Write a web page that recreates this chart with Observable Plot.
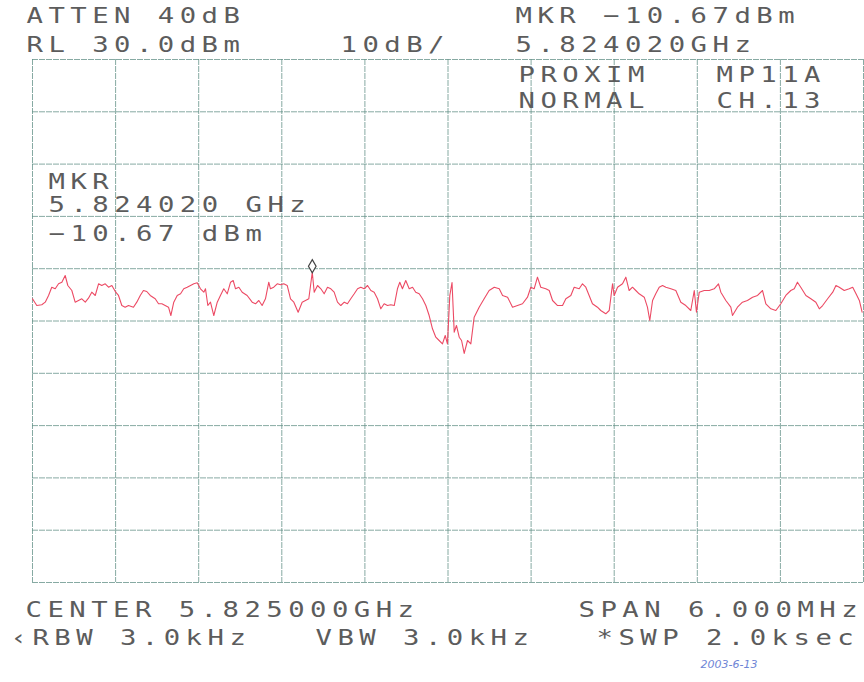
<!DOCTYPE html>
<html><head><meta charset="utf-8">
<script src="https://cdn.jsdelivr.net/npm/d3@7"></script>
<script src="https://cdn.jsdelivr.net/npm/@observablehq/plot@0.6"></script>
<style>html,body{margin:0;padding:0;background:#fff;}</style>
</head><body><div id="chart"></div>
<script>
// Trace: frequency (MHz) and level (dBm)
const freqMHz = [
5822.000,5822.031,5822.067,5822.092,5822.116,5822.139,5822.164,5822.188,5822.212,5822.236,
5822.255,5822.284,5822.308,5822.332,5822.356,5822.381,5822.404,5822.428,5822.453,5822.477,
5822.500,5822.525,5822.549,5822.573,5822.601,5822.621,5822.645,5822.669,5822.693,5822.729,
5822.753,5822.778,5822.801,5822.825,5822.850,5822.886,5822.910,5822.934,5822.958,5822.982,
5822.999,5823.020,5823.045,5823.069,5823.092,5823.117,5823.141,5823.165,5823.189,5823.213,
5823.237,5823.249,5823.266,5823.285,5823.309,5823.334,5823.357,5823.381,5823.406,5823.430,
5823.449,5823.466,5823.490,5823.514,5823.550,5823.586,5823.610,5823.634,5823.658,5823.682,
5823.706,5823.718,5823.742,5823.767,5823.791,5823.814,5823.839,5823.863,5823.887,5823.918,
5823.947,5823.971,5823.995,5824.020,5824.034,5824.058,5824.082,5824.106,5824.130,5824.154,
5824.178,5824.202,5824.226,5824.251,5824.274,5824.298,5824.323,5824.347,5824.370,5824.395,
5824.419,5824.443,5824.467,5824.491,5824.515,5824.539,5824.563,5824.587,5824.612,5824.635,
5824.652,5824.671,5824.695,5824.720,5824.744,5824.767,5824.792,5824.816,5824.840,5824.864,
5824.888,5824.912,5824.936,5824.960,5824.980,5824.996,5825.013,5825.029,5825.045,5825.061,
5825.081,5825.098,5825.117,5825.141,5825.165,5825.189,5825.225,5825.261,5825.297,5825.334,
5825.370,5825.394,5825.430,5825.466,5825.502,5825.538,5825.574,5825.598,5825.622,5825.646,
5825.670,5825.706,5825.731,5825.755,5825.791,5825.827,5825.851,5825.887,5825.911,5825.947,
5825.971,5825.995,5826.019,5826.043,5826.079,5826.103,5826.139,5826.164,5826.188,5826.200,
5826.224,5826.260,5826.284,5826.308,5826.332,5826.356,5826.380,5826.417,5826.440,5826.457,
5826.477,5826.500,5826.525,5826.549,5826.573,5826.609,5826.645,5826.681,5826.717,5826.753,
5826.778,5826.794,5826.814,5826.850,5826.886,5826.922,5826.953,5826.970,5827.006,5827.042,
5827.054,5827.090,5827.126,5827.162,5827.199,5827.235,5827.271,5827.295,5827.331,5827.367,
5827.403,5827.439,5827.475,5827.500,5827.523,5827.547,5827.584,5827.620,5827.656,5827.681,
5827.705,5827.741,5827.778,5827.801,5827.825,5827.861,5827.897,5827.922,5827.946,5827.970,5827.990
];
const levelDBm = [
-15.75,-17.04,-16.90,-16.40,-15.12,-13.54,-13.84,-12.89,-12.58,-11.30,
-13.21,-14.17,-16.40,-16.08,-15.75,-16.40,-15.64,-14.49,-15.12,-12.89,
-13.21,-12.89,-13.54,-13.21,-14.49,-15.12,-17.04,-17.36,-17.04,-17.36,
-16.40,-15.12,-14.17,-14.36,-15.12,-15.75,-16.71,-16.71,-17.04,-17.36,
-18.95,-16.40,-15.12,-14.80,-13.84,-13.54,-13.21,-12.89,-12.69,-13.84,
-14.49,-13.84,-17.04,-16.40,-18.95,-16.40,-15.12,-13.84,-14.80,-12.58,
-12.26,-13.84,-13.54,-14.49,-15.12,-16.40,-16.71,-16.08,-17.04,-15.75,
-12.58,-13.84,-13.54,-12.89,-13.08,-12.89,-13.21,-15.75,-16.40,-18.32,
-16.40,-16.08,-15.75,-10.67,-14.49,-13.21,-13.84,-14.80,-13.54,-13.84,
-14.49,-16.40,-17.04,-16.40,-16.71,-15.75,-14.80,-13.84,-13.54,-13.84,
-13.21,-14.17,-14.49,-15.75,-17.67,-16.71,-17.04,-16.90,-17.04,-13.84,
-12.58,-13.84,-12.26,-13.84,-13.54,-14.49,-14.80,-15.75,-17.04,-18.95,
-21.49,-23.10,-23.73,-24.36,-22.77,-24.36,-15.12,-12.64,-22.14,-20.86,
-23.10,-23.73,-26.21,-23.73,-24.36,-19.27,-17.36,-15.75,-14.17,-13.54,
-13.84,-15.12,-15.45,-17.36,-17.04,-16.71,-15.45,-13.54,-13.84,-11.62,
-13.54,-13.84,-14.17,-16.08,-17.04,-17.04,-15.75,-15.12,-13.54,-13.84,
-12.89,-13.54,-15.12,-16.71,-17.36,-17.99,-18.62,-17.99,-12.89,-15.12,
-13.54,-12.89,-11.62,-14.17,-13.54,-14.17,-14.80,-15.45,-17.36,-19.90,
-16.08,-14.80,-13.54,-13.21,-13.54,-13.84,-14.17,-16.40,-17.04,-17.99,
-14.17,-18.32,-14.49,-14.17,-14.17,-13.84,-12.89,-14.49,-16.08,-17.36,
-18.95,-17.36,-16.40,-16.08,-15.45,-15.12,-14.17,-16.71,-17.67,-17.99,
-16.71,-15.12,-14.17,-13.84,-12.58,-13.54,-15.12,-15.75,-16.40,-17.67,
-17.04,-15.75,-14.49,-13.21,-13.54,-14.17,-13.84,-13.54,-14.80,-16.08,-18.32
];
// Grid (10 divisions each)
const xGrid = [5822, 5822.6, 5823.2, 5823.8, 5824.4, 5825, 5825.6, 5826.2, 5826.8, 5827.4, 5828];
const yGrid = [30, 20, 10, 0, -10, -20, -30, -40, -50, -60, -70];
// Marker
const markerFreq = [5824.020];
const markerLevel = [-10.67];
// Annotation texts
const headerTexts = ["ATTEN 40dB", "MKR \u221210.67dBm", "RL 30.0dBm", "10dB/", "5.824020GHz"];
const panelTexts = ["PROXIM", "MP11A", "NORMAL", "CH.13"];
const markerTexts = ["MKR", "5.824020 GHz", "\u221210.67 dBm"];
const footerTexts = ["CENTER 5.825000GHz", "SPAN 6.000MHz", "\u2039RBW 3.0kHz", "VBW 3.0kHz", "*SWP 2.0ksec"];
const signatureText = ["2003-6-13"];

const trace = freqMHz.map((f, i) => ({f, level: levelDBm[i]}));
const marker = markerFreq.map((f, i) => ({f, level: markerLevel[i]}));

function label(str, dx, dy, opts = {}) {
  return Plot.text([str], {
    frameAnchor: "top-left", dx, dy, text: d => d,
    textAnchor: "start", lineAnchor: "middle",
    fontSize: 21, fill: "#5c5c5c", ...opts
  });
}

const gridStyle = {stroke: "#5f8d84", strokeOpacity: 0.75, strokeWidth: 1, strokeDasharray: "6,1"};

const chart = Plot.plot({
  width: 864, height: 682,
  marginLeft: 32, marginRight: 1, marginTop: 59, marginBottom: 100,
  x: {domain: [5822, 5828], axis: null},
  y: {domain: [-70, 30], axis: null},
  style: {background: "#fff", fontFamily: "'DejaVu Sans Mono', monospace"},
  marks: [
    Plot.ruleX(xGrid, gridStyle),
    Plot.ruleY(yGrid, gridStyle),
    Plot.line(trace, {x: "f", y: "level", stroke: "#ec4a64", strokeWidth: 1.1}),
    Plot.dot(marker, {x: "f", y: "level", symbol: "diamond", r: 4, stroke: "#444", fill: "#fff", strokeWidth: 1.2, dy: -6}),
    label(headerTexts[0], -6, -43),
    label(headerTexts[1], 483, -43),
    label(headerTexts[2], -6, -14.5),
    label(headerTexts[3], 308, -14.5),
    label(headerTexts[4], 483, -14.5),
    label(panelTexts[0], 486, 15.5),
    label(panelTexts[1], 684, 15.5),
    label(panelTexts[2], 486, 41.5),
    label(panelTexts[3], 684, 41.5),
    label(markerTexts[0], 16, 122.5),
    label(markerTexts[1], 16, 146),
    label(markerTexts[2], 16, 174.5),
    label(footerTexts[0], -7, 551),
    label(footerTexts[1], 546, 551),
    label(footerTexts[2], -22, 579),
    label(footerTexts[3], 283, 579),
    label(footerTexts[4], 564, 579),
    label(signatureText[0], 668, 605, {fontSize: 11, fill: "#6f86d6", fontStyle: "italic", fontFamily: "'DejaVu Sans', sans-serif"})
  ]
});
// Wide plotter-style lettering: stretch glyphs horizontally, keep a fixed pitch
d3.select(chart).selectAll('[font-size="21"]').attr("letter-spacing", "4.2px")
  .selectAll("text").each(function() {
    const t = this.getAttribute("transform") || "";
    this.setAttribute("transform", t + " scale(1.3,1)");
  });
document.getElementById("chart").appendChild(chart);
</script>
</body></html>
